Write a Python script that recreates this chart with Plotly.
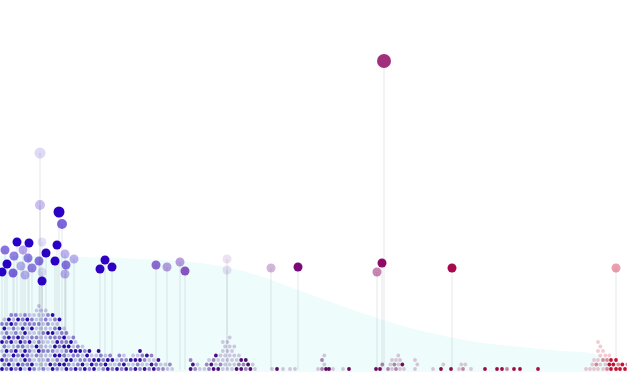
import plotly.graph_objects as go

# ---------------- data ----------------
# lollipop points: position along the scale, height, emphasis (0..1), size class
lolli_x = [40, 40, 59, 62, 17, 29, 42, 57, 5, 23, 14, 28, 39, 46, 55, 65, 74, 7, 21, 32,
           42, 66, 2, 13, 25, 65, 42, 100, 105, 112, 156, 167, 180, 185, 227, 227, 271,
           298, 382, 377, 384, 452, 616]
lolli_y = [223, 171, 164, 152, 134, 133, 134, 131, 126, 126, 120, 118, 115, 123, 115, 122,
           117, 112, 110, 108, 104, 111, 104, 103, 101, 102, 95, 107, 116, 109, 111, 109,
           114, 105, 117, 106, 108, 109, 113, 104, 315, 108, 108]
lolli_w = [0.15, 0.25, 1.0, 0.6, 1.0, 1.0, 0.12, 1.0, 0.55, 0.35, 0.5, 0.5, 0.55, 1.0, 1.0,
           0.3, 0.3, 1.0, 0.3, 0.5, 0.12, 0.55, 1.0, 0.6, 0.3, 0.3, 1.0, 1.0, 1.0, 1.0, 0.6,
           0.4, 0.4, 0.7, 0.12, 0.12, 0.3, 1.0, 1.0, 0.5, 0.85, 1.0, 0.4]
lolli_s = [11, 10, 11, 10, 9, 9, 9, 9, 9, 9, 9, 9, 9, 9, 9, 9, 9, 9, 9, 9, 9, 9, 9, 9, 9,
           9, 9, 9, 9, 9, 9, 9, 9, 9, 9, 9, 9, 9, 9, 9, 14, 9, 9]

# density curve behind everything
dens_x = [0, 40, 80, 120, 160, 200, 230, 260, 290, 320, 350, 380, 410, 440, 470, 500, 530,
          560, 590, 605, 615, 627]
dens_y = [120, 120, 119, 118, 116, 113, 108, 100, 89, 78, 67, 57, 48, 41, 35, 31, 28, 25,
          23, 18, 10, 6]

# stacked dot swarm: column positions and per-dot emphasis codes (bottom to top)
swarm_x = [2, 6.6, 11.2, 15.8, 20.4, 25, 29.6, 34.2, 38.8, 43.4, 48, 52.6, 57.2, 61.8, 66.4,
           71, 75.6, 80.2, 84.8, 89.4, 94, 98.6, 103.2, 107.8, 112.4, 117, 121.6, 126.2,
           130.8, 135.4, 140, 144.6, 149.2, 153.8, 158.4, 163, 167.6, 172.2,
           190.6, 195.2, 199.8, 204.4, 209, 213.6, 218.2, 222.8, 227.4, 232, 236.6, 241.2,
           245.8, 250.4, 255, 272, 277, 283, 290, 295, 318, 322, 326, 329, 333, 343, 349,
           376, 380, 388, 392, 396, 400, 404, 415, 433, 441, 451, 459, 463, 471, 485, 497,
           502, 507, 514, 520, 538, 586, 590, 594, 598, 603, 607, 611, 616, 620, 625]
swarm_codes = ["323212321321", "232131232123", "3123213212312", "2312321321232",
               "3213123213121", "1232312131232", "3321213213221", "21121312112111",
               "111131211121111", "21112111211211", "1321211231212", "3213231232123",
               "232312321313", "1312132321", "323123212", "21323132", "3212321", "232131",
               "31232", "23213", "3231", "12323", "2321", "3132", "213", "3212", "2321",
               "312", "2131", "3231", "21323", "3123", "2312", "321", "213", "21", "12", "1",
               "332", "21", "1", "12", "231", "3123", "3211", "1111111", "11111111",
               "111111", "3211", "323", "233", "31", "1", "1", "3", "1", "1", "1",
               "1", "2121", "3", "3", "1", "1", "3",
               "3", "32", "21", "121", "2111", "131", "1", "111", "1", "31", "3", "11",
               "21", "1", "3", "3", "3", "2", "3", "3", "3", "1", "11", "121", "1111111",
               "11211", "2321", "333", "323", "33", "32"]

# ---------------- styling ----------------
CSCALE = [[0.0, "#2800c8"], [0.18, "#3000c0"], [0.3, "#5a10a8"], [0.48, "#7a0878"],
          [0.61, "#900a68"], [0.72, "#a80850"], [1.0, "#d01030"]]
CSCALE_DOTS = [[0.0, "#2a08a8"], [0.18, "#3008a0"], [0.3, "#4a1088"], [0.48, "#5a0860"],
               [0.61, "#70085a"], [0.72, "#90084a"], [1.0, "#c81030"]]
OPAC = {"1": 0.22, "2": 0.5, "3": 1.0}
BASE = 6
ROW = 4.5
COLW = 4.6

fig = go.Figure()

# density area
fig.add_trace(go.Scatter(x=dens_x, y=[BASE - 2] * len(dens_x), mode="lines",
                         line=dict(width=0), hoverinfo="skip"))
fig.add_trace(go.Scatter(x=dens_x, y=dens_y, mode="lines", line=dict(width=0, shape="spline"),
                         fill="tonexty", fillcolor="#eefcfc", hoverinfo="skip"))

# stems
sx, sy = [], []
for x, y in zip(lolli_x, lolli_y):
    sx += [x, x, None]
    sy += [BASE, y, None]
fig.add_trace(go.Scatter(x=sx, y=sy, mode="lines",
                         line=dict(color="rgba(170,175,180,0.3)", width=1), hoverinfo="skip"))

# swarm dots
dx, dy, dop = [], [], []
for x, codes in zip(swarm_x, swarm_codes):
    for j, c in enumerate(codes):
        dx.append(x + (COLW / 2 if j % 2 else 0))
        dy.append(7 + ROW * j)
        dop.append(OPAC[c])
fig.add_trace(go.Scatter(x=dx, y=dy, mode="markers",
                         marker=dict(size=3.8, color=dx, cmin=0, cmax=627,
                                     colorscale=CSCALE_DOTS, opacity=dop, line=dict(width=0)),
                         hoverinfo="skip"))

# lollipop heads
fig.add_trace(go.Scatter(x=lolli_x, y=lolli_y, mode="markers",
                         marker=dict(size=lolli_s, color=lolli_x, cmin=0, cmax=627,
                                     colorscale=CSCALE, opacity=lolli_w, line=dict(width=0))))

fig.update_layout(width=627, height=376, margin=dict(l=0, r=0, t=0, b=0),
                  paper_bgcolor="white", plot_bgcolor="white", showlegend=False,
                  xaxis=dict(range=[0, 627], visible=False, fixedrange=True),
                  yaxis=dict(range=[0, 376], visible=False, fixedrange=True))

fig.write_html("out.html")
